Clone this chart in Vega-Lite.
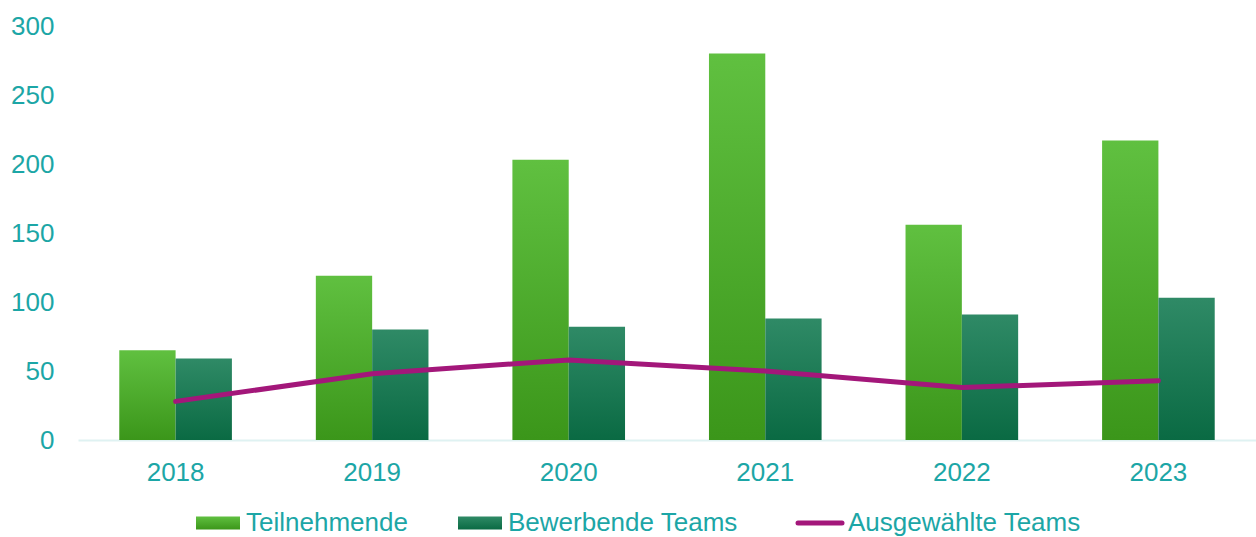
{
  "$schema": "https://vega.github.io/schema/vega-lite/v6.json",
  "width": 1178,
  "height": 414,
  "autosize": {"type": "none"},
  "padding": {"left": 78, "top": 26, "right": 0, "bottom": 97},
  "background": "white",
  "config": {
    "view": {"stroke": null},
    "font": "Liberation Sans",
    "axis": {"labelFont": "Liberation Sans", "labelColor": "#1ca6a6", "labelFontSize": 26, "grid": false, "ticks": false, "title": null},
    "legend": {"labelFont": "Liberation Sans", "labelColor": "#1ca6a6", "labelFontSize": 26, "labelLimit": 500}
  },
  "data": {
    "values": [
      {"year": "2018", "series": "Teilnehmende", "value": 65},
      {"year": "2018", "series": "Bewerbende Teams", "value": 59},
      {"year": "2018", "series": "Ausgewählte Teams", "value": 28},
      {"year": "2019", "series": "Teilnehmende", "value": 119},
      {"year": "2019", "series": "Bewerbende Teams", "value": 80},
      {"year": "2019", "series": "Ausgewählte Teams", "value": 48},
      {"year": "2020", "series": "Teilnehmende", "value": 203},
      {"year": "2020", "series": "Bewerbende Teams", "value": 82},
      {"year": "2020", "series": "Ausgewählte Teams", "value": 58},
      {"year": "2021", "series": "Teilnehmende", "value": 280},
      {"year": "2021", "series": "Bewerbende Teams", "value": 88},
      {"year": "2021", "series": "Ausgewählte Teams", "value": 50},
      {"year": "2022", "series": "Teilnehmende", "value": 156},
      {"year": "2022", "series": "Bewerbende Teams", "value": 91},
      {"year": "2022", "series": "Ausgewählte Teams", "value": 38},
      {"year": "2023", "series": "Teilnehmende", "value": 217},
      {"year": "2023", "series": "Bewerbende Teams", "value": 103},
      {"year": "2023", "series": "Ausgewählte Teams", "value": 43}
    ]
  },
  "encoding": {
    "x": {
      "field": "year", "type": "nominal",
      "scale": {"paddingInner": 0.427, "paddingOuter": 0.21},
      "axis": {"labelAngle": 0, "domainColor": "#dff2f2", "domainWidth": 2, "labelPadding": 19}
    },
    "y": {
      "field": "value", "type": "quantitative",
      "scale": {"domain": [0, 300], "nice": false},
      "axis": {"values": [0, 50, 100, 150, 200, 250, 300], "domain": false, "labelPadding": 24, "minExtent": 78, "maxExtent": 78}
    }
  },
  "layer": [
    {
      "transform": [{"filter": "datum.series === 'Teilnehmende'"}],
      "mark": {"type": "bar", "fill": {"gradient": "linear", "x1": 0, "y1": 0, "x2": 0, "y2": 1, "stops": [{"offset": 0, "color": "#60c040"}, {"offset": 1, "color": "#3b961a"}]}},
      "encoding": {
        "xOffset": {"field": "series", "type": "nominal", "scale": {"domain": ["Teilnehmende", "Bewerbende Teams"], "paddingInner": 0, "paddingOuter": 0}}
      }
    },
    {
      "transform": [{"filter": "datum.series === 'Bewerbende Teams'"}],
      "mark": {"type": "bar", "fill": {"gradient": "linear", "x1": 0, "y1": 0, "x2": 0, "y2": 1, "stops": [{"offset": 0, "color": "#2f8a66"}, {"offset": 1, "color": "#0a6a43"}]}},
      "encoding": {
        "xOffset": {"field": "series", "type": "nominal"}
      }
    },
    {
      "transform": [{"filter": "datum.series === 'Ausgewählte Teams'"}],
      "mark": {"type": "line", "strokeWidth": 5, "strokeCap": "round", "strokeJoin": "round"},
      "encoding": {
        "color": {
          "field": "series", "type": "nominal",
          "scale": {
            "domain": ["Teilnehmende", "Bewerbende Teams", "Ausgewählte Teams"],
            "range": ["#4fae2c", "#1c7a55", "#a3177a"]
          },
          "legend": {
            "title": null,
            "orient": "none",
            "legendX": 127,
            "legendY": 484,
            "direction": "horizontal",
            "columnPadding": 50,
            "labelOffset": 15,
            "symbolSize": 1936,
            "encode": {
              "symbols": {
                "update": {
                  "shape": {"signal": "datum.value === 'Ausgewählte Teams' ? 'stroke' : 'M-1,-0.3H1V0.3H-1Z'"},
                  "fill": {"signal": "datum.value === 'Teilnehmende' ? {gradient: 'linear', x1: 0, y1: 0, x2: 0, y2: 1, stops: [{offset: 0, color: '#60c040'}, {offset: 1, color: '#3b961a'}]} : datum.value === 'Bewerbende Teams' ? {gradient: 'linear', x1: 0, y1: 0, x2: 0, y2: 1, stops: [{offset: 0, color: '#2f8a66'}, {offset: 1, color: '#0a6a43'}]} : 'transparent'"},
                  "stroke": {"signal": "datum.value === 'Ausgewählte Teams' ? '#a3177a' : 'transparent'"},
                  "strokeWidth": {"signal": "datum.value === 'Ausgewählte Teams' ? 5 : 0"},
                  "strokeCap": {"value": "round"},
                  "opacity": {"value": 1}
                }
              }
            }
          }
        }
      }
    }
  ]
}
